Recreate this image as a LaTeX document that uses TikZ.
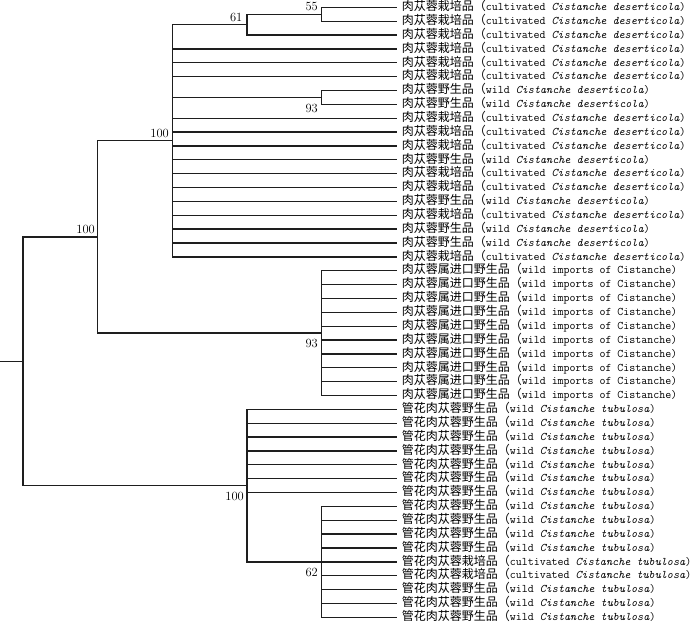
\documentclass[tikz,border=0pt]{standalone}
\usepackage{fontspec}
\newfontfamily\cjkf{Noto Sans CJK SC}
\newcommand\latf{\fontsize{11.6pt}{14pt}\selectfont\ttfamily}
\newcommand\lbDC{{\cjkf 肉苁蓉栽培品（}{\latf cultivated \textit{Cistanche deserticola})}}
\newcommand\lbDW{{\cjkf 肉苁蓉野生品（}{\latf wild \textit{Cistanche deserticola})}}
\newcommand\lbIW{{\cjkf 肉苁蓉属进口野生品（}{\latf wild imports of Cistanche)}}
\newcommand\lbTW{{\cjkf 管花肉苁蓉野生品（}{\latf wild \textit{Cistanche tubulosa})}}
\newcommand\lbTC{{\cjkf 管花肉苁蓉栽培品（}{\latf cultivated \textit{Cistanche tubulosa})}}
\definecolor{linec}{RGB}{30,30,30}
\tikzset{
  edge/.style={draw=linec, line width=1.3pt},
  leaf/.style={anchor=west, inner xsep=5pt, inner ysep=0pt, font=\fontsize{12pt}{14pt}\selectfont,
               text height=9pt, text depth=2.5pt},
  boot/.style={inner sep=0pt, font=\fontsize{12.5pt}{14pt}\selectfont\rmfamily}
}
\begin{document}
\begin{tikzpicture}[x=1pt, y=-1pt]
\useasboundingbox (0,0) rectangle (700,622);
% leaves
\foreach \k [count=\i] in {DC,DC,DC,DC,DC,DC,DW,DW,DC,DC,DC,DW,DC,DC,DW,DC,DW,DW,DC,
  IW,IW,IW,IW,IW,IW,IW,IW,IW,IW,
  TW,TW,TW,TW,TW,TW,TW,TW,TW,TW,TW,TC,TC,TW,TW,TW}{
  \node[leaf] (t\i) at (396.7, {7.3+(\i-1)*13.864}) {\csname lb\k\endcsname};
}
% internal junctions
\coordinate (R0) at (0, 361.26);
\coordinate (R) at (23, 361.26);
\coordinate (A) at (97.7, 236.92);
\coordinate (D) at (172.7, 140.74);
\coordinate (C61) at (247, 24.63);
\coordinate (C55) at (321.7, 14.232);
\coordinate (C93) at (321.7, 97.416);
\coordinate (I) at (321.7, 333.104);
\coordinate (T) at (247, 485.608);
\coordinate (C62) at (321.7, 561.86);
% edges
\draw[edge] (R0) -- (R);
\draw[edge] (R) |- (A);
\draw[edge] (R) |- (T);
\draw[edge] (A) |- (D);
\draw[edge] (A) |- (I);
\draw[edge] (D) |- (C61);
\draw[edge] (C61) |- (C55);
\draw[edge] (C61) |- (t3.west);
\draw[edge] (C55) |- (t1.west);
\draw[edge] (C55) |- (t2.west);
\foreach \j in {4,5,6,9,10,11,12,13,14,15,16,17,18,19}{\draw[edge] (D) |- (t\j.west);}
\draw[edge] (D) |- (C93);
\draw[edge] (C93) |- (t7.west);
\draw[edge] (C93) |- (t8.west);
\foreach \j in {20,...,29}{\draw[edge] (I) |- (t\j.west);}
\foreach \j in {30,...,36}{\draw[edge] (T) |- (t\j.west);}
\draw[edge] (T) |- (C62);
\foreach \j in {37,...,45}{\draw[edge] (C62) |- (t\j.west);}
% bootstrap values
\node[boot, anchor=south east] (bA) at (95, 233.5) {100};
\node[boot, anchor=south east] (bD) at (169, 137.5) {100};
\node[boot, anchor=south east] (b61) at (242.5, 22) {61};
\node[boot, anchor=south east] (b55) at (318, 11) {55};
\node[boot, anchor=north east] (b93a) at (318, 104) {93};
\node[boot, anchor=north east] (b93b) at (318, 339) {93};
\node[boot, anchor=north east] (bT) at (244, 491.5) {100};
\node[boot, anchor=north east] (b62) at (318, 568.3) {62};
\end{tikzpicture}
\end{document}
